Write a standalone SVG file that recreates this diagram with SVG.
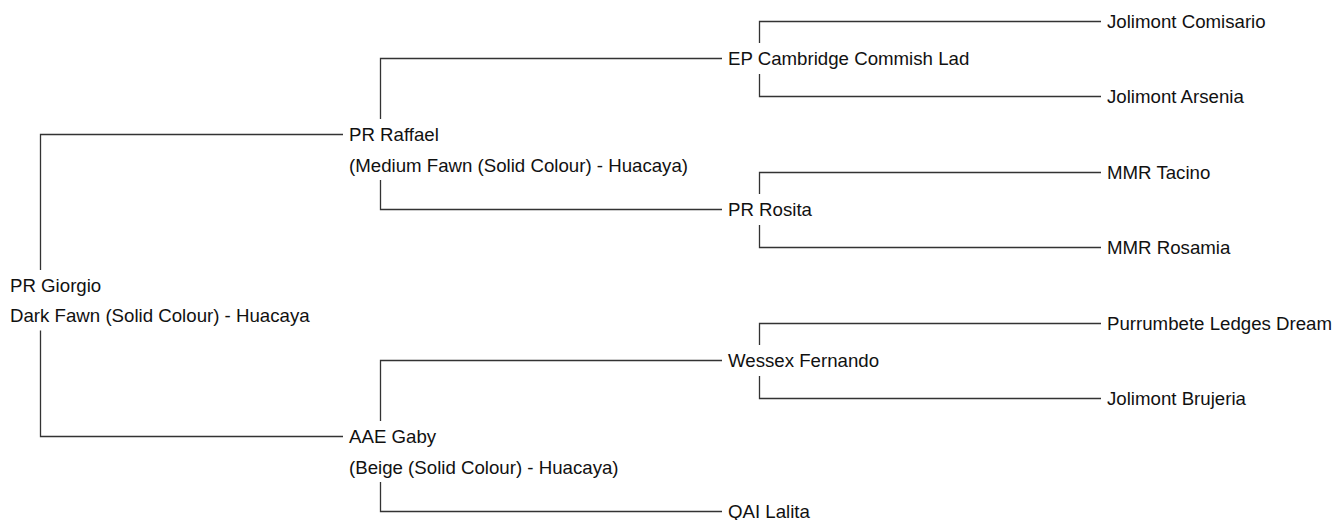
<svg xmlns="http://www.w3.org/2000/svg" width="1339" height="520" viewBox="0 0 1339 520">
<style>
text { font-family: "Liberation Sans", Arial, sans-serif; font-size: 18.67px; fill: #111; }
.c path { fill: none; stroke: #333; stroke-width: 1.3; }
</style>
<rect width="1339" height="520" fill="#fff"/>
<g id="connectors" class="c">
<path d="M40.5 270 V134.5 H343"/>
<path d="M40.5 330.5 V436.5 H343"/>
<path d="M380.5 119 V58.5 H722"/>
<path d="M380.5 180 V209.5 H722"/>
<path d="M759.5 43 V21.5 H1101"/>
<path d="M759.5 74 V96.5 H1101"/>
<path d="M759.5 194 V172.5 H1101"/>
<path d="M759.5 225 V247.5 H1101"/>
<path d="M380.5 421 V360.5 H722"/>
<path d="M380.5 482 V511.5 H722"/>
<path d="M759.5 345 V323.5 H1101"/>
<path d="M759.5 376 V398.5 H1101"/>
</g>
<g id="pr-giorgio"><text x="10" y="291.7">PR Giorgio</text><text x="10" y="322">Dark Fawn (Solid Colour) - Huacaya</text></g>
<g id="pr-raffael"><text x="349" y="141">PR Raffael</text><text x="349" y="171.5">(Medium Fawn (Solid Colour) - Huacaya)</text></g>
<g id="aae-gaby"><text x="349" y="443">AAE Gaby</text><text x="349" y="473.5">(Beige (Solid Colour) - Huacaya)</text></g>
<g id="ep-cambridge"><text x="728" y="65">EP Cambridge Commish Lad</text></g>
<g id="pr-rosita"><text x="728" y="216">PR Rosita</text></g>
<g id="wessex-fernando"><text x="728" y="367">Wessex Fernando</text></g>
<g id="qai-lalita"><text x="728" y="518">QAI Lalita</text></g>
<g id="jolimont-comisario"><text x="1107" y="28">Jolimont Comisario</text></g>
<g id="jolimont-arsenia"><text x="1107" y="103">Jolimont Arsenia</text></g>
<g id="mmr-tacino"><text x="1107" y="179">MMR Tacino</text></g>
<g id="mmr-rosamia"><text x="1107" y="254">MMR Rosamia</text></g>
<g id="purrumbete"><text x="1107" y="330">Purrumbete Ledges Dream</text></g>
<g id="jolimont-brujeria"><text x="1107" y="405">Jolimont Brujeria</text></g>
</svg>
